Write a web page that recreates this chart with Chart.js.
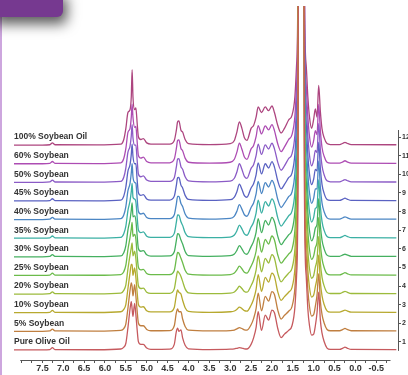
<!DOCTYPE html>
<html>
<head>
    <title>Olive / Soybean oil NMR</title>
    <script src="https://cdn.jsdelivr.net/npm/chart.js"></script>
    <style>
        html, body { margin: 0; padding: 0; background: #fff; }
        #wrap { position: relative; width: 408px; height: 375px; overflow: hidden; }
        #tab { position: absolute; left: -10px; top: -10px; width: 73px; height: 27px; background: #763990;
               border-bottom-right-radius: 6px; box-shadow: 4px 7px 13px rgba(0,0,0,0.65); z-index: 3; }
        #edge { position: absolute; left: 0; top: 14px; width: 2px; height: 361px; background: #cda6de; z-index: 2; }
        canvas { position: absolute; left: 0; top: 0; }
    </style>
</head>
<body>
<div id="wrap">
    <canvas id="nmrChart" width="408" height="375"></canvas>
    <div id="edge"></div>
    <div id="tab"></div>
</div>
<script>
    // chemical shift (ppm) of every sampled point, shared by all spectra
    const ppm = [
        8.18, 7.5, 7.32, 7.26, 7.2, 6.2, 5.62,
        5.55, 5.5, 5.45, 5.4, 5.37, 5.35, 5.33, 5.29, 5.26, 5.23, 5.2, 5.14, 5.08, 5.0, 4.9,
        4.45, 4.34, 4.29, 4.26, 4.23, 4.18, 4.14, 4.08, 4.0,
        3.5, 3.0, 2.9, 2.84, 2.78, 2.72, 2.66, 2.6,
        2.5, 2.44, 2.38, 2.33, 2.25, 2.16, 2.08, 2.0, 1.94, 1.86, 1.78, 1.7, 1.6, 1.52,
        1.45, 1.41, 1.38, 1.36, 1.3, 1.24, 1.22, 1.18, 1.14, 1.1,
        1.05, 1.0, 0.96, 0.92, 0.88, 0.84, 0.8, 0.75, 0.68, 0.6,
        0.38, 0.3, 0.25, 0.2, 0.1, -0.98
    ];

    // intensities (in units of the stacking step)
    const oliveOil = [
        0, 0, 0.02, 0.12, 0.02, 0.01, 0.05,
        0.15, 0.36, 1.2, 2.2, 2.6, 2.2, 1.8, 2.5, 1.9, 1.1, 0.45, 0.3, 0.3, 0.1, 0.03,
        0.04, 0.3, 1.0, 1.17, 1.0, 1.08, 0.65, 0.25, 0.06,
        0.02, 0.04, 0.06, 0.09, 0.12, 0.1, 0.06, 0.05,
        0.3, 0.65, 1.2, 2.05, 1.05, 1.87, 1.6, 2.14, 2.0, 1.15, 0.66, 0.85, 1.05, 1.3,
        2.3, 4.0, 8, 30, 60, 30, 8, 4.0, 2.2, 1.3,
        0.8, 0.85, 1.3, 2.0, 3.1, 1.6, 0.9, 0.45, 0.1, 0.03,
        0.03, 0.1, 0.15, 0.1, 0.03, 0.02
    ];
    const soy5 = [
        0, 0, 0.02, 0.12, 0.02, 0.01, 0.05,
        0.15, 0.4, 1.25, 2.2, 2.6, 2.4, 1.9, 2.5, 1.9, 1.1, 0.45, 0.3, 0.3, 0.1, 0.03,
        0.04, 0.3, 1.0, 1.2, 1.05, 1.05, 0.66, 0.26, 0.06,
        0.02, 0.04, 0.07, 0.13, 0.2, 0.15, 0.08, 0.06,
        0.35, 0.68, 1.22, 2.05, 1.1, 1.88, 1.62, 2.13, 1.98, 1.14, 0.66, 0.86, 1.08, 1.33,
        2.33, 4.0, 8, 30, 60, 30, 8, 4.0, 2.25, 1.32,
        0.82, 0.9, 1.35, 1.95, 3.1, 1.62, 0.9, 0.45, 0.1, 0.03,
        0.03, 0.1, 0.16, 0.1, 0.03, 0.02
    ];
    const soy10 = [
        0, 0, 0.02, 0.12, 0.02, 0.01, 0.05,
        0.18, 0.45, 1.3, 2.15, 2.6, 2.6, 2.0, 2.4, 1.9, 1.1, 0.45, 0.3, 0.32, 0.1, 0.04,
        0.04, 0.28, 0.95, 1.22, 1.1, 1.0, 0.67, 0.27, 0.07,
        0.02, 0.05, 0.09, 0.18, 0.3, 0.22, 0.11, 0.08,
        0.4, 0.72, 1.25, 2.05, 1.15, 1.9, 1.64, 2.13, 1.95, 1.12, 0.66, 0.86, 1.1, 1.35,
        2.36, 4.05, 8, 30, 60, 30, 8, 4.05, 2.3, 1.34,
        0.84, 0.95, 1.4, 1.9, 3.1, 1.64, 0.9, 0.44, 0.1, 0.03,
        0.03, 0.1, 0.14, 0.1, 0.03, 0.02
    ];
    const soy20 = [
        0, 0, 0.02, 0.12, 0.02, 0.01, 0.05,
        0.2, 0.5, 1.35, 2.1, 2.5, 2.75, 2.05, 2.3, 1.9, 1.1, 0.45, 0.3, 0.32, 0.1, 0.04,
        0.04, 0.28, 0.92, 1.23, 1.15, 0.95, 0.68, 0.28, 0.07,
        0.02, 0.05, 0.11, 0.25, 0.42, 0.3, 0.14, 0.1,
        0.45, 0.76, 1.28, 2.05, 1.2, 1.92, 1.67, 2.12, 1.92, 1.11, 0.66, 0.87, 1.13, 1.38,
        2.4, 4.1, 8, 30, 60, 30, 8, 4.1, 2.35, 1.36,
        0.85, 1.0, 1.45, 1.85, 3.1, 1.66, 0.9, 0.44, 0.09, 0.03,
        0.03, 0.1, 0.15, 0.1, 0.03, 0.02
    ];
    const soy25 = [
        0, 0, 0.02, 0.12, 0.02, 0.01, 0.05,
        0.2, 0.55, 1.4, 2.05, 2.5, 2.85, 2.1, 2.2, 1.95, 1.1, 0.45, 0.3, 0.33, 0.1, 0.04,
        0.05, 0.27, 0.9, 1.24, 1.2, 0.92, 0.68, 0.28, 0.07,
        0.02, 0.05, 0.13, 0.3, 0.5, 0.36, 0.17, 0.12,
        0.5, 0.8, 1.3, 2.05, 1.25, 1.93, 1.69, 2.12, 1.9, 1.1, 0.66, 0.87, 1.15, 1.4,
        2.42, 4.1, 8, 30, 60, 30, 8, 4.1, 2.38, 1.38,
        0.86, 1.05, 1.5, 1.8, 3.12, 1.68, 0.89, 0.43, 0.09, 0.03,
        0.03, 0.1, 0.15, 0.1, 0.03, 0.02
    ];
    const soy30 = [
        0, 0, 0.02, 0.12, 0.02, 0.01, 0.05,
        0.22, 0.6, 1.45, 2.0, 2.5, 2.9, 2.15, 2.2, 1.95, 1.15, 0.45, 0.3, 0.33, 0.11, 0.04,
        0.05, 0.27, 0.88, 1.25, 1.22, 0.9, 0.69, 0.29, 0.07,
        0.03, 0.06, 0.15, 0.35, 0.6, 0.43, 0.2, 0.14,
        0.55, 0.83, 1.32, 2.05, 1.3, 1.95, 1.71, 2.12, 1.88, 1.1, 0.66, 0.88, 1.18, 1.43,
        2.45, 4.15, 8, 30, 60, 30, 8, 4.15, 2.4, 1.4,
        0.86, 1.1, 1.55, 1.75, 3.12, 1.7, 0.89, 0.43, 0.09, 0.03,
        0.03, 0.1, 0.14, 0.1, 0.03, 0.02
    ];
    const soy35 = [
        0, 0, 0.02, 0.12, 0.02, 0.01, 0.05,
        0.24, 0.65, 1.5, 2.0, 2.5, 2.95, 2.2, 2.1, 1.95, 1.15, 0.45, 0.3, 0.34, 0.11, 0.04,
        0.05, 0.26, 0.86, 1.25, 1.24, 0.88, 0.69, 0.29, 0.08,
        0.03, 0.06, 0.17, 0.4, 0.7, 0.5, 0.23, 0.16,
        0.6, 0.86, 1.35, 2.05, 1.35, 1.96, 1.73, 2.11, 1.86, 1.09, 0.65, 0.88, 1.2, 1.45,
        2.47, 4.15, 8, 30, 60, 30, 8, 4.15, 2.43, 1.41,
        0.87, 1.12, 1.6, 1.7, 3.14, 1.72, 0.89, 0.42, 0.09, 0.03,
        0.03, 0.1, 0.15, 0.1, 0.03, 0.02
    ];
    const soy40 = [
        0, 0, 0.02, 0.12, 0.02, 0.01, 0.05,
        0.25, 0.7, 1.55, 1.95, 2.5, 3.0, 2.3, 2.0, 1.95, 1.15, 0.45, 0.3, 0.34, 0.11, 0.05,
        0.05, 0.26, 0.85, 1.25, 1.25, 0.86, 0.7, 0.3, 0.08,
        0.03, 0.07, 0.19, 0.45, 0.8, 0.56, 0.26, 0.18,
        0.65, 0.89, 1.38, 2.05, 1.4, 1.98, 1.75, 2.11, 1.84, 1.08, 0.65, 0.88, 1.23, 1.48,
        2.5, 4.2, 8, 30, 60, 30, 8, 4.2, 2.46, 1.42,
        0.87, 1.15, 1.65, 1.65, 3.15, 1.73, 0.88, 0.42, 0.09, 0.03,
        0.03, 0.1, 0.15, 0.1, 0.03, 0.02
    ];
    const soy45 = [
        0, 0, 0.02, 0.12, 0.02, 0.01, 0.05,
        0.26, 0.75, 1.6, 1.95, 2.5, 3.05, 2.4, 2.0, 2.0, 1.15, 0.45, 0.3, 0.34, 0.11, 0.05,
        0.05, 0.26, 0.84, 1.25, 1.26, 0.85, 0.7, 0.3, 0.08,
        0.03, 0.07, 0.21, 0.5, 0.9, 0.63, 0.29, 0.2,
        0.7, 0.92, 1.4, 2.05, 1.45, 2.0, 1.77, 2.11, 1.82, 1.07, 0.65, 0.89, 1.25, 1.5,
        2.52, 4.2, 8, 30, 60, 30, 8, 4.2, 2.48, 1.43,
        0.88, 1.18, 1.7, 1.62, 3.16, 1.74, 0.88, 0.41, 0.08, 0.03,
        0.03, 0.1, 0.15, 0.1, 0.03, 0.02
    ];
    const soy50 = [
        0, 0, 0.02, 0.12, 0.02, 0.01, 0.05,
        0.27, 0.78, 1.62, 1.95, 2.5, 3.1, 2.4, 2.0, 2.0, 1.2, 0.45, 0.3, 0.35, 0.12, 0.05,
        0.05, 0.25, 0.83, 1.25, 1.27, 0.84, 0.7, 0.3, 0.08,
        0.03, 0.07, 0.22, 0.56, 1.0, 0.7, 0.32, 0.21,
        0.75, 0.95, 1.43, 2.05, 1.5, 2.01, 1.79, 2.1, 1.8, 1.07, 0.65, 0.89, 1.28, 1.53,
        2.54, 4.22, 8, 30, 60, 30, 8, 4.22, 2.5, 1.44,
        0.88, 1.2, 1.72, 1.6, 3.17, 1.76, 0.88, 0.41, 0.08, 0.03,
        0.03, 0.1, 0.15, 0.1, 0.03, 0.02
    ];
    const soy60 = [
        0, 0, 0.02, 0.12, 0.02, 0.01, 0.05,
        0.28, 0.82, 1.68, 1.9, 2.5, 3.2, 2.5, 1.95, 2.0, 1.2, 0.45, 0.3, 0.35, 0.12, 0.05,
        0.05, 0.25, 0.82, 1.25, 1.28, 0.82, 0.7, 0.3, 0.08,
        0.03, 0.08, 0.24, 0.62, 1.1, 0.78, 0.36, 0.23,
        0.8, 0.98, 1.45, 2.05, 1.6, 2.03, 1.82, 2.1, 1.78, 1.06, 0.65, 0.9, 1.3, 1.56,
        2.56, 4.25, 8, 30, 60, 30, 8, 4.25, 2.53, 1.46,
        0.89, 1.25, 1.78, 1.56, 3.18, 1.78, 0.87, 0.4, 0.08, 0.03,
        0.03, 0.1, 0.16, 0.1, 0.03, 0.02
    ];
    const soy100 = [
        0, 0, 0.02, 0.12, 0.02, 0.01, 0.05,
        0.3, 0.9, 1.75, 1.9, 2.6, 4.05, 2.6, 1.9, 2.0, 1.2, 0.45, 0.3, 0.35, 0.12, 0.05,
        0.05, 0.25, 0.8, 1.25, 1.3, 0.8, 0.7, 0.3, 0.08,
        0.03, 0.08, 0.25, 0.7, 1.25, 0.9, 0.4, 0.25,
        0.9, 1.05, 1.5, 2.05, 1.75, 2.05, 1.85, 2.1, 1.75, 1.05, 0.65, 0.9, 1.35, 1.6,
        2.6, 4.3, 8, 30, 60, 30, 8, 4.3, 2.6, 1.5,
        0.9, 1.4, 1.95, 1.5, 3.2, 1.8, 0.87, 0.4, 0.08, 0.03,
        0.03, 0.1, 0.15, 0.1, 0.03, 0.02
    ];

    // bottom to top
    const seriesNames = ['Pure Olive Oil', '5% Soybean', '10% Soybean', '20% Soybean', '25% Soybean',
        '30% Soybean', '35% Soybean', '40% Soybean', '45% Soybean', '50% Soybean', '60% Soybean', '100% Soybean Oil'];
    const seriesValues = [oliveOil, soy5, soy10, soy20, soy25, soy30, soy35, soy40, soy45, soy50, soy60, soy100];
    const seriesColors = ['#c65a5e', '#c07f40', '#b7a92f', '#9cbb3c', '#6bbb4a', '#45b060',
        '#3bb0a4', '#4b86c4', '#5a62c2', '#8b5bc6', '#ad4cb3', '#ad457f'];

    const xTickValues = [8.0, 7.75, 7.5, 7.25, 7.0, 6.75, 6.5, 6.25, 6.0, 5.75, 5.5, 5.25, 5.0, 4.75, 4.5, 4.25,
        4.0, 3.75, 3.5, 3.25, 3.0, 2.75, 2.5, 2.25, 2.0, 1.75, 1.5, 1.25, 1.0, 0.75, 0.5, 0.25, 0.0, -0.25, -0.5, -0.75];
    const yTickValues = [1, 2, 3, 4, 5, 6, 7, 8, 9, 10, 11, 12];

    // spectra sit a bit under their tick
    const baselineDrop = 0.43;

    const datasets = seriesValues.map((vals, i) => ({
        label: seriesNames[i],
        data: vals.map((v, j) => ({ x: ppm[j], y: i + 1 - baselineDrop + v })),
        borderColor: seriesColors[i],
        borderWidth: 1.3,
        pointRadius: 0,
        fill: false,
        cubicInterpolationMode: 'monotone'
    }));

    // axis lines that don't span the whole plot + the series names
    const decorations = {
        id: 'decorations',
        afterDraw(chart) {
            const { ctx, chartArea, scales } = chart;
            const x = scales.x, y = scales.y;
            ctx.save();
            ctx.strokeStyle = '#555';
            ctx.lineWidth = 1;
            ctx.beginPath();
            ctx.moveTo(x.getPixelForValue(8.03), Math.round(chartArea.bottom) + 0.5);
            ctx.lineTo(x.getPixelForValue(-0.84), Math.round(chartArea.bottom) + 0.5);
            ctx.stroke();
            ctx.beginPath();
            ctx.moveTo(Math.round(chartArea.right) + 0.5, y.getPixelForValue(0.52));
            ctx.lineTo(Math.round(chartArea.right) + 0.5, y.getPixelForValue(12.38));
            ctx.stroke();

            ctx.fillStyle = '#333';
            ctx.font = 'bold 8.5px "Liberation Sans", Arial, sans-serif';
            ctx.textBaseline = 'middle';
            seriesNames.forEach((name, i) => {
                ctx.fillText(name, chartArea.left, y.getPixelForValue(i + 1));
            });
            ctx.restore();
        }
    };

    new Chart(document.getElementById('nmrChart'), {
        type: 'line',
        data: { datasets: datasets },
        options: {
            responsive: false,
            animation: false,
            layout: { padding: { left: 14, top: 6, right: 0, bottom: 0 } },
            plugins: { legend: { display: false }, tooltip: { enabled: false } },
            scales: {
                x: {
                    type: 'linear',
                    reverse: true,
                    min: -1.02,
                    max: 8.18,
                    afterBuildTicks: s => { s.ticks = xTickValues.map(v => ({ value: v })); },
                    afterFit: s => { s.height = 15; },
                    border: { display: false },
                    grid: { drawOnChartArea: false, drawTicks: true, tickLength: 3, color: '#555' },
                    ticks: {
                        autoSkip: false,
                        maxRotation: 0,
                        padding: 0,
                        color: '#333',
                        font: { family: '"Liberation Sans", Arial, sans-serif', size: 9, weight: 'bold' },
                        callback: v => {
                            const twice = Math.round(v * 2);
                            if (Math.abs(v * 2 - twice) > 1e-6 || v > 7.6 || v < -0.6) return '';
                            return v.toFixed(1);
                        }
                    }
                },
                y: {
                    type: 'linear',
                    position: 'right',
                    min: 0.03,
                    max: 19.04,
                    afterBuildTicks: s => { s.ticks = yTickValues.map(v => ({ value: v })); },
                    afterFit: s => { s.width = 10; },
                    border: { display: false },
                    grid: { drawOnChartArea: false, drawTicks: true, tickLength: 3, color: '#555' },
                    ticks: {
                        autoSkip: false,
                        padding: 1,
                        color: '#333',
                        font: { family: '"Liberation Sans", Arial, sans-serif', size: 7, weight: 'bold' }
                    }
                }
            }
        },
        plugins: [decorations]
    });
</script>
</body>
</html>
